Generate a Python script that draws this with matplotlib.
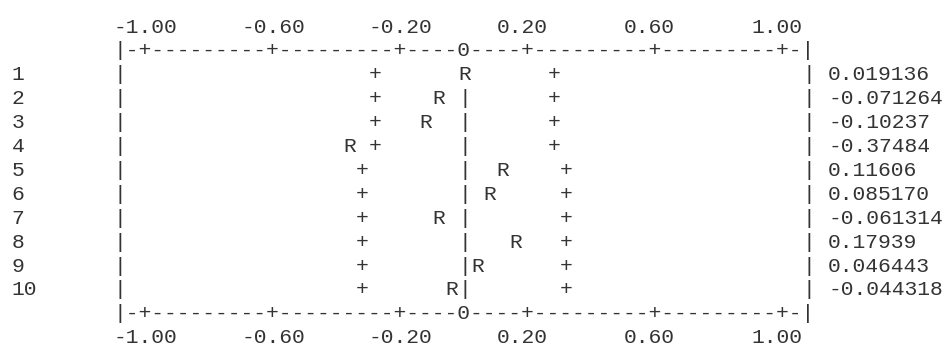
import numpy as np
import matplotlib
matplotlib.use("Agg")
import matplotlib.pyplot as plt

# ---- data ----
lags = [1, 2, 3, 4, 5, 6, 7, 8, 9, 10]
acf = [0.019136, -0.071264, -0.10237, -0.37484, 0.11606,
       0.085170, -0.061314, 0.17939, 0.046443, -0.044318]
acf_labels = ["0.019136", "-0.071264", "-0.10237", "-0.37484", "0.11606",
              "0.085170", "-0.061314", "0.17939", "0.046443", "-0.044318"]
conf = [0.280, 0.280, 0.282, 0.284, 0.321, 0.324, 0.326, 0.327, 0.334, 0.335]
ticks = [-1.00, -0.60, -0.20, 0.20, 0.60, 1.00]
tick_labels = ["-1.00", "-0.60", "-0.20", "0.20", "0.60", "1.00"]

# ---- layout (one text column = STEP units of correlation) ----
STEP = 0.04
EDGE = 1.08              # frame bars sit at +-EDGE
PX_COL = 12.76           # pixels per text column
W, H = 944, 347
X0_PX = 120              # pixel of left frame bar
ROW_PX = 23.9
Y0_PX = 27               # pixel of top tick-label line

FONT = "Liberation Mono"
FS = 15.3
COLOR = "#333333"

fig = plt.figure(figsize=(W / 100, H / 100), dpi=100)
ax = fig.add_axes([0, 0, 1, 1])
ax.set_xlim(-EDGE - X0_PX / PX_COL * STEP, -EDGE + (W - X0_PX) / PX_COL * STEP)
ax.set_ylim((H - Y0_PX) / ROW_PX, -Y0_PX / ROW_PX)
ax.axis("off")


def snap(v):
    return np.round(np.asarray(v) / STEP) * STEP


def put(x, y, s, ha="center"):
    ax.text(x, y, s, ha=ha, va="center", family=FONT, fontsize=FS, color=COLOR)


# axis line built from the ticks
ncol = int(round(2 * EDGE / STEP)) + 1
chars = ["-"] * ncol
chars[0] = chars[-1] = "|"
for t in ticks:
    chars[int(round((t + EDGE) / STEP))] = "+"
chars[int(round(EDGE / STEP))] = "0"
axis_line = "".join(chars)

n = len(lags)
top_lab, top_axis = 0, 1
bot_axis, bot_lab = n + 2, n + 3

for yl in (top_axis, bot_axis):
    put(0.0, yl, axis_line, ha="center")
for yl in (top_lab, bot_lab):
    for t, lab in zip(ticks, tick_labels):
        put(t - 2 * STEP - STEP / 2, yl, lab, ha="left")

for i, (lag, r, c, lab) in enumerate(zip(lags, acf, conf, acf_labels)):
    y = i + 2
    put(-EDGE - 8 * STEP - STEP / 2, y, str(lag), ha="left")
    put(-EDGE, y, "|")
    put(EDGE, y, "|")
    rx = float(snap(r))
    if abs(rx) > 1e-9:
        put(0.0, y, "|")
    put(float(snap(-c)), y, "+")
    put(float(snap(c)), y, "+")
    put(rx, y, "R")
    put(EDGE + 2 * STEP - STEP / 2, y, lab, ha="left")

fig.savefig("out.png", dpi=100)
